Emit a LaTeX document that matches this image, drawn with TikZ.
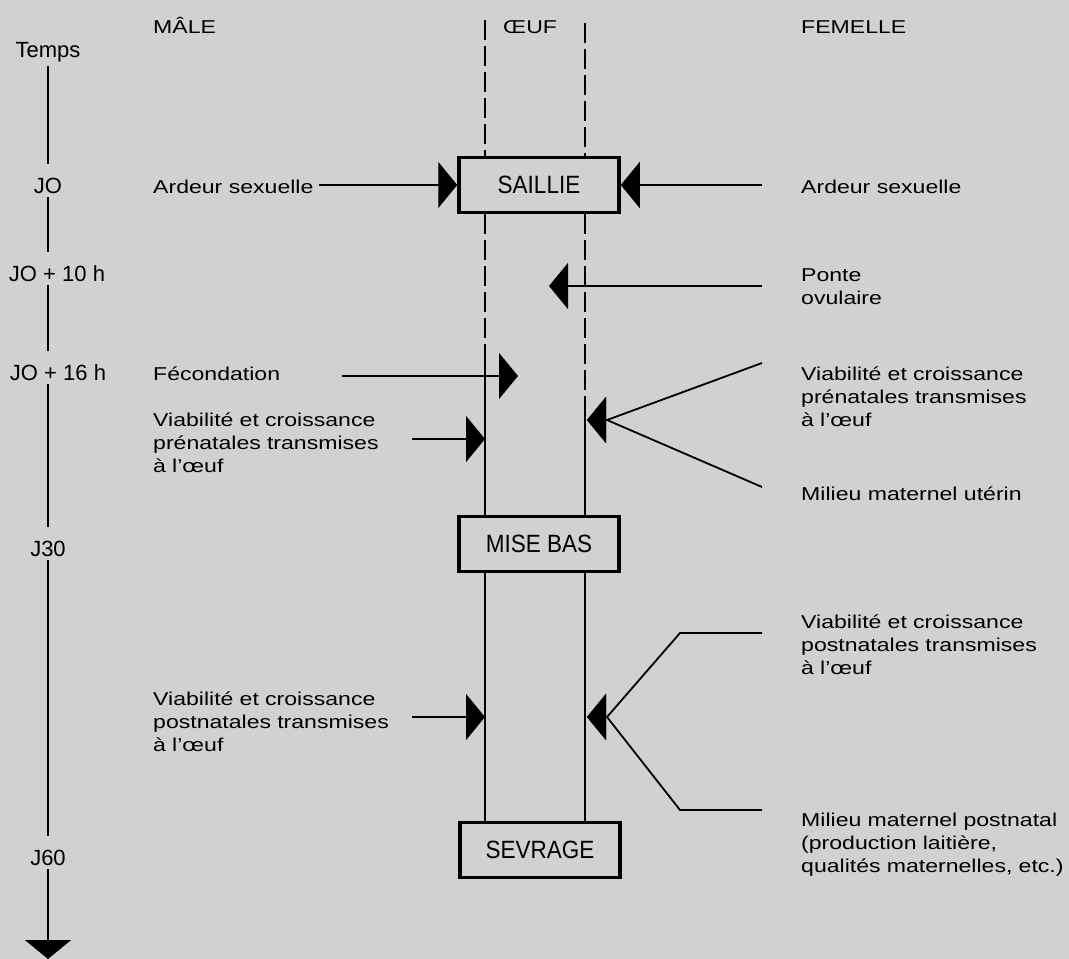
\documentclass[tikz,border=0pt]{standalone}
\usepackage{fontspec}
\setmainfont{Liberation Sans}
\newfontfamily\etiq[FakeStretch=1.24]{Liberation Sans}
\newfontfamily\boitef[FakeStretch=0.9]{Liberation Sans}
\usetikzlibrary{arrows.meta}

\begin{document}
\begin{tikzpicture}[x=1pt, y=-1pt,
    etiquette/.style={font=\etiq\fontsize{18.6}{23.3}\selectfont, align=left, inner sep=0pt, anchor=base west},
    bloc/.style={etiquette, text width=285pt},
    titre/.style={etiquette},
    jour/.style={font=\fontsize{22}{22}\selectfont, inner sep=4pt, anchor=base},
    boite/.style={draw, line width=3.5pt, minimum width=160pt, minimum height=55pt, inner sep=0pt, font=\boitef\fontsize{25}{25}\selectfont},
    trait/.style={line width=1.8pt},
    tirets/.style={line width=2pt, dash pattern=on 20pt off 6pt},
    fleche/.style={line width=1.8pt, -{Triangle[length=19pt, width=46pt]}}]
            \useasboundingbox (0,0) rectangle (1069,959);
            \fill[black!18] (0,0) rectangle (1069,959);

            \node[jour] (temps) at (48,57) {Temps};
            \node[jour] (j0) at (48,193) {JO};
            \node[jour] (j10) at (57,281) {JO + 10 h};
            \node[jour] (j16) at (58,380) {JO + 16 h};
            \node[jour] (j30) at (48,556) {J30};
            \node[jour] (j60) at (48,865) {J60};
            \coordinate (fin) at (48,959);
            \draw[trait, shorten >=9pt] (temps.south) -- (temps |- j0.north);
            \draw[trait, shorten >=9pt] (temps |- j0.south) -- (temps |- j10.north);
            \draw[trait, shorten >=9pt] (temps |- j10.south) -- (temps |- j16.north);
            \draw[trait, shorten >=9pt] (temps |- j16.south) -- (temps |- j30.north);
            \draw[trait, shorten >=9pt] (temps |- j30.south) -- (temps |- j60.north);
            \draw[fleche] (temps |- j60.south) -- (fin);

            \node[titre] (male) at (153,33) {MÂLE};
            \node[titre] (oeuf) at (503,33) {ŒUF};
            \node[titre] (femelle) at (801,33) {FEMELLE};

            \node[boite] (saillie) at (539,185) {SAILLIE};
            \node[boite] (misebas) at (539,544) {MISE BAS};
            \node[boite] (sevrage) at (540,850) {SEVRAGE};

            \coordinate (hautG) at (485,20);
            \coordinate (hautD) at (585,23);
            \coordinate (pleinG) at (485,360);
            \coordinate (pleinD) at (585,400);
            \draw[tirets] (hautG) -- (hautG |- saillie.north);
            \draw[tirets] (hautD) -- (hautD |- saillie.north);
            \draw[tirets] (hautG |- saillie.south) -- (pleinG);
            \draw[tirets] (hautD |- saillie.south) -- (pleinD);
            \draw[trait] (pleinG) -- (pleinG |- misebas.north);
            \draw[trait] (pleinD) -- (pleinD |- misebas.north);
            \draw[trait] (hautG |- misebas.south) -- (hautG |- sevrage.north);
            \draw[trait] (hautD |- misebas.south) -- (hautD |- sevrage.north);

            \node[etiquette] (ardeurM) at (153,193) {Ardeur sexuelle};
            \node[etiquette] (fecondation) at (153,380) {Fécondation};
            \node[bloc] (prenatM) at (153,426) {Viabilité et croissance\\prénatales transmises\\à l’œuf};
            \node[bloc] (postnatM) at (153,705) {Viabilité et croissance\\postnatales transmises\\à l’œuf};

            \node[etiquette] (ardeurF) at (801,193) {Ardeur sexuelle};
            \node[bloc] (ponte) at (801,281) {Ponte\\ovulaire};
            \node[bloc] (prenatF) at (801,380) {Viabilité et croissance\\prénatales transmises\\à l’œuf};
            \node[etiquette] (uterin) at (801,500) {Milieu maternel utérin};
            \node[bloc] (postnatF) at (801,628) {Viabilité et croissance\\postnatales transmises\\à l’œuf};
            \node[bloc] (laitier) at (801,826) {Milieu maternel postnatal\\(production laitière,\\qualités maternelles, etc.)};

            \coordinate (colD) at (762,0);
            \draw[fleche, shorten <=5pt] (ardeurM.east |- saillie.west) -- (saillie.west);
            \draw[fleche] (colD |- saillie.east) -- (saillie.east);

            \coordinate (ovule) at (549,286);
            \draw[fleche] (colD |- ovule) -- (ovule);

            \coordinate (fecDep) at (342,376);
            \coordinate (fecBout) at (518,376);
            \draw[fleche] (fecDep) -- (fecBout);

            \coordinate (prenatGDep) at (412,439);
            \draw[fleche] (prenatGDep) -- (hautG |- prenatGDep);
            \coordinate (postnatGDep) at (412,717);
            \draw[fleche] (postnatGDep) -- (hautG |- postnatGDep);

            \coordinate (prenatJonc) at (607,420);
            \coordinate (prenatBout) at (587,420);
            \draw[fleche] (762,363) -- (prenatJonc) -- (prenatBout);
            \draw[fleche] (762,487) -- (prenatJonc) -- (prenatBout);

            \coordinate (postnatJonc) at (607,717);
            \coordinate (postnatBout) at (587,717);
            \draw[fleche] (colD |- 0,633) -- (680,633) -- (postnatJonc) -- (postnatBout);
            \draw[fleche] (colD |- 0,810) -- (680,810) -- (postnatJonc) -- (postnatBout);
        \end{tikzpicture}
\end{document}
